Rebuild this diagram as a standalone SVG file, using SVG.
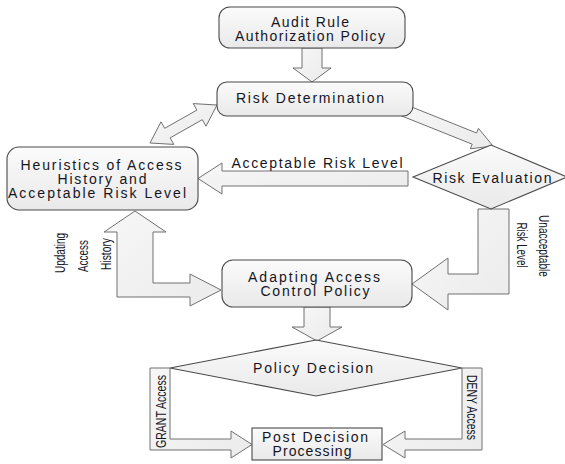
<svg xmlns="http://www.w3.org/2000/svg" width="565" height="464" viewBox="0 0 565 464">
<defs>
<linearGradient id="boxg" x1="0" y1="0" x2="0" y2="1">
<stop offset="0" stop-color="#fbfbfb"/>
<stop offset="1" stop-color="#e9e9e9"/>
</linearGradient>
<linearGradient id="arrg" x1="0" y1="0" x2="1" y2="1">
<stop offset="0" stop-color="#f7f7f7"/>
<stop offset="1" stop-color="#ebebeb"/>
</linearGradient>
</defs>
<style>
.box{fill:url(#boxg);stroke:#4a4a4a;stroke-width:1.1}
.arr{fill:url(#arrg);stroke:#707070;stroke-width:1}
.t{font-family:"Liberation Sans",Arial,sans-serif;font-size:14px;fill:#15151f;text-anchor:middle}
.r{font-family:"Liberation Sans Narrow","Liberation Sans",Arial,sans-serif;font-size:14px;fill:#15151f;text-anchor:middle}
</style>
<rect width="565" height="464" fill="#ffffff"/>
<g id="connectors">
<polygon class="arr" points="302,48 322,48 322,68 331,68 312,82 293,68 302,68"/>
<polygon class="arr" points="150,143 173.8,144.4 170.1,137.9 202.3,119.7 206,126.2 217,105 193.2,103.6 196.9,110.1 164.7,128.3 161,121.8"/>
<polygon class="arr" points="395.8,113.6 472.2,144.2 470.3,148.8 493,146 478.5,128.4 476.6,133 400.2,102.4"/>
<polygon class="arr" points="408,171 222,171 222,163 198,178.5 222,194 222,186 408,186"/>
<polygon class="arr" points="478,209 509,209 509,294 448,294 448,310 412,284 448,258 448,274 478,274"/>
<polygon class="arr" points="135,211 166,232 153,232 153,283 190,283 190,274 221,290 190,306 190,297 117,297 117,232 104,232"/>
<polygon class="arr" points="304,307 330,307 330,327 342,327 317,341 292,327 304,327"/>
<polygon class="arr" points="150,368 170,368 170,439 231,439 231,431 252,444.5 231,458 231,450 150,450"/>
<polygon class="arr" points="482,368 462,368 462,439 405,439 405,431 383,444.5 405,458 405,450 482,450"/>
<text class="t" x="317" y="168" textLength="171" lengthAdjust="spacing">Acceptable Risk Level</text>
<text class="r" transform="translate(539,246) rotate(90)" textLength="62" lengthAdjust="spacingAndGlyphs">Unacceptable</text>
<text class="r" transform="translate(517,245) rotate(90)" textLength="45" lengthAdjust="spacingAndGlyphs">Risk Level</text>
<text class="r" transform="translate(65,253) rotate(-90)" textLength="40" lengthAdjust="spacingAndGlyphs">Updating</text>
<text class="r" transform="translate(88,256) rotate(-90)" textLength="32" lengthAdjust="spacingAndGlyphs">Access</text>
<text class="r" transform="translate(111,254) rotate(-90)" textLength="32" lengthAdjust="spacingAndGlyphs">History</text>
<text class="r" transform="translate(165.5,411.5) rotate(-90)" textLength="73" lengthAdjust="spacingAndGlyphs">GRANT Access</text>
<text class="r" transform="translate(467,407.5) rotate(90)" textLength="65" lengthAdjust="spacingAndGlyphs">DENY Access</text>
</g>
<g id="audit">
<rect class="box" x="219" y="7" width="186" height="41" rx="11"/>
<text class="t" x="310" y="27" textLength="78" lengthAdjust="spacing">Audit Rule</text>
<text class="t" x="310" y="41" textLength="150" lengthAdjust="spacing">Authorization Policy</text>
</g>
<g id="riskdet">
<rect class="box" x="217" y="82" width="196" height="34" rx="10"/>
<text class="t" x="310" y="103" textLength="148" lengthAdjust="spacing">Risk Determination</text>
</g>
<g id="heuristics">
<rect class="box" x="7" y="147" width="191" height="63" rx="12"/>
<text class="t" x="101" y="170" textLength="161" lengthAdjust="spacing">Heuristics of Access</text>
<text class="t" x="102" y="184" textLength="89" lengthAdjust="spacing">History and</text>
<text class="t" x="97" y="198" textLength="178" lengthAdjust="spacing">Acceptable Risk Level</text>
</g>
<g id="riskeval">
<polygon class="box" points="413,177 491,145 567,177 491,209"/>
<text class="t" x="492" y="183" textLength="119" lengthAdjust="spacing">Risk Evaluation</text>
</g>
<g id="adapting">
<rect class="box" x="222" y="260" width="190" height="47" rx="11"/>
<text class="t" x="314" y="282" textLength="132" lengthAdjust="spacing">Adapting Access</text>
<text class="t" x="315" y="296" textLength="109" lengthAdjust="spacing">Control Policy</text>
</g>
<g id="policy">
<polygon class="box" points="170,368 316,340 462,368 316,396"/>
<text class="t" x="313" y="373" textLength="120" lengthAdjust="spacing">Policy Decision</text>
</g>
<g id="post">
<rect class="box" x="252" y="428" width="130" height="32"/>
<text class="t" x="315" y="442" textLength="106" lengthAdjust="spacing">Post Decision</text>
<text class="t" x="312" y="456" textLength="79" lengthAdjust="spacing">Processing</text>
</g>
</svg>
